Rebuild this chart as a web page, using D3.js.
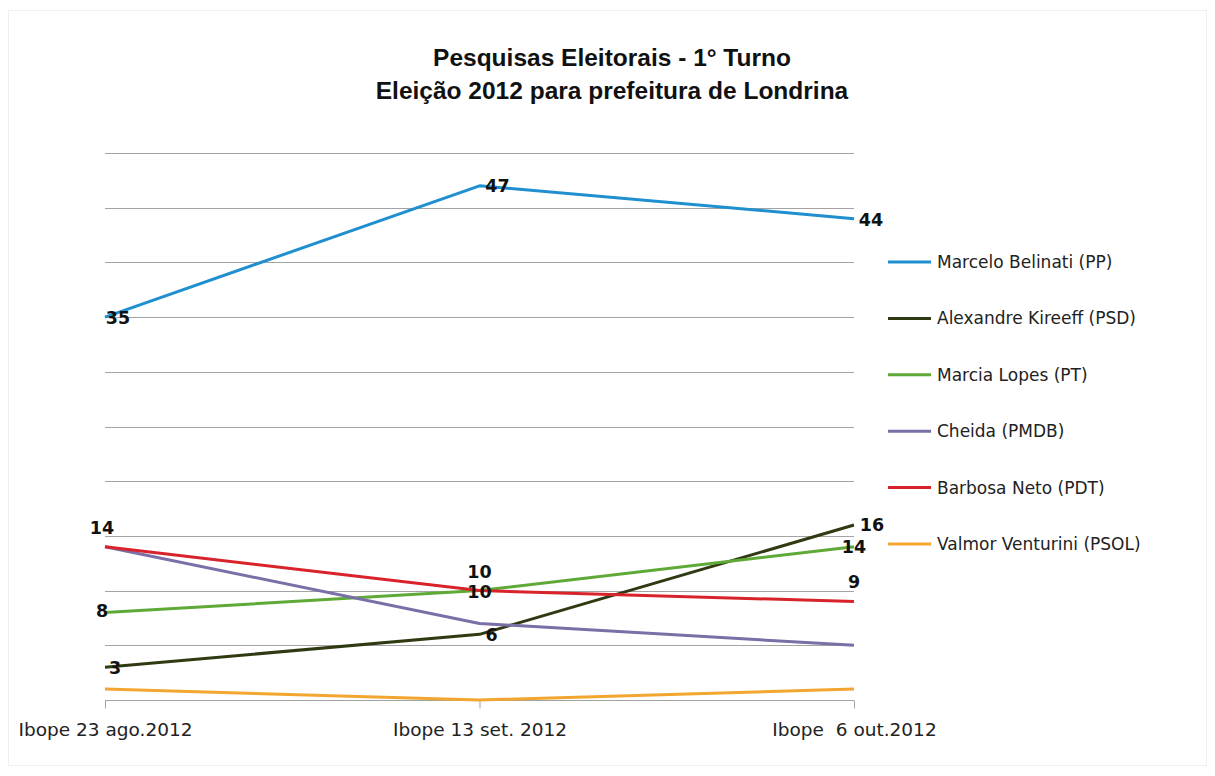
<!DOCTYPE html>
<html>
<head>
<meta charset="utf-8">
<script src="https://cdn.jsdelivr.net/npm/d3@7"></script>
<style>
  html, body { margin: 0; padding: 0; background: #fff; }
  svg { display: block; }
</style>
</head>
<body>
<svg id="chart" width="1215" height="776"></svg>
<script>
const categories = ["Ibope 23 ago.2012", "Ibope 13 set. 2012", "Ibope  6 out.2012"];
const seriesNames = ["Marcelo Belinati (PP)", "Alexandre Kireeff (PSD)", "Marcia Lopes (PT)", "Cheida (PMDB)", "Barbosa Neto (PDT)", "Valmor Venturini (PSOL)"];
const belinati = [35, 47, 44];
const kireeff = [3, 6, 16];
const lopes = [8, 10, 14];
const cheida = [14, 7, 5];
const barbosa = [14, 10, 9];
const venturini = [1, 0, 1];
const seriesValues = [belinati, kireeff, lopes, cheida, barbosa, venturini];
const seriesColors = ["#1f8fd0", "#2f3a12", "#5fa936", "#7a6fa6", "#d8232a", "#f2a630"];
const yTicks = [0, 5, 10, 15, 20, 25, 30, 35, 40, 45, 50];
const titleLines = ["Pesquisas Eleitorais - 1° Turno", "Eleição 2012 para prefeitura de Londrina"];

// which data labels are shown, and their offset from the point (layout only)
const labelSpecs = [
  {s: 0, i: 0, dx: 13, dy: 1},
  {s: 0, i: 1, dx: 18, dy: 0},
  {s: 0, i: 2, dx: 17, dy: 1},
  {s: 1, i: 0, dx: 10, dy: 1},
  {s: 1, i: 1, dx: 12, dy: 1},
  {s: 1, i: 2, dx: 18, dy: 0},
  {s: 2, i: 0, dx: -3, dy: -1},
  {s: 2, i: 1, dx: 0, dy: -19},
  {s: 2, i: 2, dx: 0, dy: 0},
  {s: 4, i: 0, dx: -3, dy: -19},
  {s: 4, i: 1, dx: 0, dy: 1},
  {s: 4, i: 2, dx: 0, dy: -20}
];

const svg = d3.select("#chart");

svg.append("rect").attr("x", 8.5).attr("y", 10.5).attr("width", 1198).attr("height", 755)
  .attr("fill", "#fff").attr("stroke", "#efefef").attr("stroke-width", 1);

const x = d3.scalePoint().domain(categories).range([105, 854]);
const y = d3.scaleLinear().domain([0, 50]).range([700, 153]);

// title
svg.append("g").selectAll("text").data(titleLines).join("text")
  .attr("x", 612).attr("y", (d, i) => 66 + i * 33)
  .attr("text-anchor", "middle")
  .attr("font-family", "Liberation Sans, Arial, sans-serif")
  .attr("font-weight", "bold").attr("font-size", 24.5).attr("fill", "#111")
  .text(d => d);

// gridlines
svg.append("g").selectAll("line").data(yTicks.filter(t => t > 0)).join("line")
  .attr("x1", 105).attr("x2", 854)
  .attr("y1", d => Math.round(y(d)) + 0.5).attr("y2", d => Math.round(y(d)) + 0.5)
  .attr("stroke", "#a3a3a3").attr("stroke-width", 1);

// x axis
const xAxis = svg.append("g").attr("transform", `translate(0,${Math.round(y(0)) + 0.5})`)
  .call(d3.axisBottom(x).tickSize(8).tickSizeOuter(0));
xAxis.select(".domain").attr("stroke", "#a3a3a3").attr("d", "M105,0H854");
xAxis.selectAll(".tick line").attr("stroke", "#a3a3a3");
xAxis.selectAll(".tick text")
  .attr("font-family", "DejaVu Sans, sans-serif").attr("font-size", 18.5)
  .attr("fill", "#222").attr("dy", 0).attr("y", 35)
  .style("white-space", "pre");

// lines
const line = d3.line().x((d, i) => x(categories[i])).y(d => y(d));
svg.append("g").selectAll("path").data(seriesValues).join("path")
  .attr("d", d => line(d))
  .attr("fill", "none")
  .attr("stroke", (d, i) => seriesColors[i])
  .attr("stroke-width", 3)
  .attr("stroke-linejoin", "round");

// data labels
svg.append("g").selectAll("text").data(labelSpecs).join("text")
  .attr("x", d => x(categories[d.i]) + d.dx)
  .attr("y", d => y(seriesValues[d.s][d.i]) + d.dy)
  .attr("dominant-baseline", "central")
  .attr("text-anchor", "middle")
  .attr("font-family", "DejaVu Sans, sans-serif")
  .attr("font-weight", "bold").attr("font-size", 17.5).attr("fill", "#111")
  .text(d => seriesValues[d.s][d.i]);

// legend
const legend = svg.append("g").selectAll("g").data(seriesNames).join("g")
  .attr("transform", (d, i) => `translate(888,${262 + i * 56.4})`);
legend.append("line").attr("x1", 0).attr("x2", 43).attr("y1", 0).attr("y2", 0)
  .attr("stroke", (d, i) => seriesColors[i]).attr("stroke-width", 3);
legend.append("text").attr("x", 49).attr("y", 0).attr("dominant-baseline", "central")
  .attr("font-family", "DejaVu Sans, sans-serif").attr("font-size", 17)
  .attr("fill", "#222").text(d => d);
</script>
</body>
</html>
